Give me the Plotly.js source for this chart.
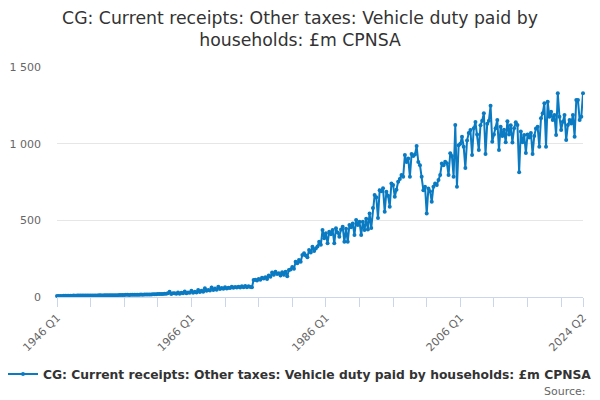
<!DOCTYPE html>
<html>
<head>
<meta charset="utf-8">
<script src="https://cdn.plot.ly/plotly-3.0.1.min.js"></script>
<style>
  html, body { margin: 0; padding: 0; background: #fff; }
  #chart { width: 600px; height: 400px; }
</style>
</head>
<body>
<div id="chart"></div>
<script>
// Vehicle duty paid by households, £m, quarterly 1946 Q1 - 2024 Q2
const firstYear = 1946;
const lastYear = 2024;
const lastQuarter = 2;

// one row per year: Q1..Q4
const values1946to1965 = [
  6, 7, 7, 7,      8, 8, 8, 8,      8, 8, 9, 8,      9, 9, 9, 9,
  9, 10, 10, 9,    10, 10, 10, 10,  10, 11, 11, 10,  11, 11, 12, 11,
  12, 12, 12, 12,  12, 13, 13, 13,  13, 14, 14, 13,  14, 14, 15, 14,
  15, 15, 16, 15,  16, 17, 17, 16,  17, 18, 18, 18,  19, 20, 20, 20,
  21, 22, 24, 35,  20, 24, 25, 22,  30, 22, 28, 24,  36, 25, 30, 27
];
const values1966to1985 = [
  41, 28, 35, 30,  45, 32, 40, 35,  57, 40, 46, 42,  62, 46, 55, 48,
  67, 52, 58, 54,  63, 55, 60, 58,  67, 60, 65, 62,  67, 62, 70, 64,
  72, 64, 70, 66,  63, 111, 112, 108, 118, 112, 125, 120, 128, 118, 140, 132,
  160, 145, 165, 150, 155, 140, 162, 145, 165, 135, 176, 180, 195, 185, 230, 220,
  241, 230, 274, 285, 270, 260, 306, 290, 328, 300, 317, 330, 360, 340, 437, 383
];
const values1986to2005 = [
  415, 350, 426, 410, 437, 350, 448, 420, 393, 440, 458, 360, 445, 360, 469, 455,
  480, 404, 502, 470, 491, 404, 491, 437, 510, 440, 545, 450, 580, 665, 650, 515,
  697, 690, 710, 556, 686, 660, 589, 741, 730, 654, 700, 752, 770, 795, 784, 926,
  880, 904, 784, 932, 920, 930, 984, 880, 860, 784, 697, 719, 545, 708, 690, 621,
  719, 741, 730, 763, 795, 871, 860, 882, 873, 795, 937, 920, 784, 1121, 719, 990
];
const values2006to2024 = [
  1000, 1045, 980, 841,   1020, 1069, 1089, 926,  1100, 1141, 1060, 958,
  1120, 1150, 1198, 932,  1130, 1150, 1247, 1013, 1060, 1100, 1154, 958,
  1110, 1050, 1090, 1010, 1147, 1060, 1120, 1008, 1100, 1140, 1121, 813,
  1080, 1010, 1056, 939,  1060, 1040, 1070, 932,  1050, 1099, 1110, 980,
  1165, 1198, 1263, 980,  1273, 1176, 1208, 1154, 1187, 1056, 1328, 1176,
  1089, 1143, 1187, 1024, 1121, 1154, 1132, 1187, 1045, 1284, 1284, 1154,
  1176, 1328
];

const values = [].concat(values1946to1965, values1966to1985, values1986to2005, values2006to2024);

const quarters = [];
for (let y = firstYear; y <= lastYear; y++) {
  for (let q = 1; q <= 4; q++) {
    if (y === lastYear && q > lastQuarter) break;
    quarters.push(y + ' Q' + q);
  }
}

// tick every 5 years, label every 20 years plus the last quarter
const tickVals = [];
const tickText = [];
for (let y = firstYear; y <= 2021; y += 5) {
  tickVals.push(y + ' Q1');
  tickText.push((y - firstYear) % 20 === 0 ? y + ' Q1' : '');
}
tickVals.push(quarters[quarters.length - 1]);
tickText.push(quarters[quarters.length - 1]);

const seriesName = 'CG: Current receipts: Other taxes: Vehicle duty paid by households: £m CPNSA';
const blue = '#0a7bc2';
const font = 'DejaVu Sans, sans-serif';

Plotly.newPlot('chart', [{
  x: quarters, y: values.slice(0, quarters.length),
  type: 'scatter', mode: 'lines+markers', name: seriesName,
  line: { color: blue, width: 2 },
  marker: { color: blue, size: 4 },
  cliponaxis: false,
}], {
  width: 600, height: 400,
  paper_bgcolor: '#fff', plot_bgcolor: '#fff',
  font: { family: font, size: 11, color: '#666' },
  separators: '. ',
  title: {
    text: 'CG: Current receipts: Other taxes: Vehicle duty paid by<br>households: £m CPNSA',
    font: { family: font, size: 17.3, color: '#333' },
    x: 0.5, xanchor: 'center', xref: 'container',
    y: 0.94, yanchor: 'middle', yref: 'container',
  },
  margin: { l: 57, r: 17, t: 67, b: 103 },
  xaxis: {
    type: 'category', automargin: false,
    range: [0, quarters.length - 1],
    tickmode: 'array', tickvals: tickVals, ticktext: tickText,
    tickangle: -45, ticks: 'outside', ticklen: 9, tickcolor: '#ccd6eb', tickwidth: 1,
    showline: true, linecolor: '#ccd6eb', linewidth: 1,
    showgrid: false, zeroline: false,
    tickfont: { family: font, size: 11, color: '#666' },
  },
  yaxis: {
    automargin: false,
    range: [0, 1500], tickvals: [0, 500, 1000, 1500],
    tickformat: ',d',
    showgrid: true, gridcolor: '#e6e6e6', zeroline: false, showline: false,
    ticks: '', ticklabelstandoff: 15,
    tickfont: { family: font, size: 11, color: '#666' },
  },
  showlegend: true,
  legend: {
    orientation: 'h', xref: 'container', x: 0.5, xanchor: 'center',
    yref: 'container', y: 0.065, yanchor: 'middle',
    font: { family: font, size: 12.3, color: '#333', weight: 'bold' },
    itemwidth: 30,
  },
  annotations: [{
    text: 'Source:', xref: 'paper', yref: 'paper',
    x: 1.0095, xanchor: 'right', y: -0.409, yanchor: 'middle', showarrow: false,
    font: { family: font, size: 11, color: '#666' },
  }],
}, { displayModeBar: false, staticPlot: true });
</script>
</body>
</html>
